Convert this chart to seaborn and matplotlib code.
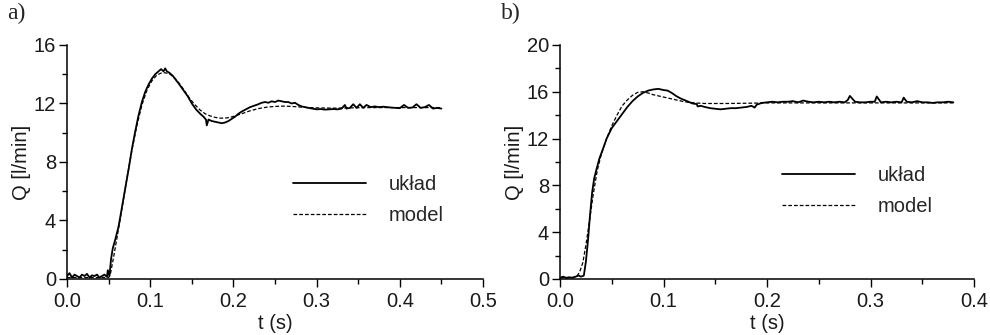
import pandas as pd
import matplotlib
matplotlib.use("Agg")
import matplotlib.pyplot as plt
import seaborn as sns
from matplotlib.ticker import MultipleLocator, FormatStrFormatter

# panel a) - measured response ("układ") and model
ta_uklad = [0.000, 0.003, 0.006, 0.009, 0.012, 0.015, 0.018, 0.021, 0.024, 0.027, 0.030,
            0.033, 0.036, 0.039, 0.042, 0.045, 0.048, 0.049, 0.051, 0.053, 0.055, 0.058,
            0.062, 0.066, 0.070, 0.074, 0.078, 0.082, 0.086, 0.090, 0.094, 0.098, 0.102,
            0.106, 0.110, 0.113, 0.116, 0.118, 0.120, 0.123, 0.127, 0.131, 0.135, 0.140,
            0.145, 0.150, 0.155, 0.160, 0.164, 0.167, 0.168, 0.170, 0.174, 0.178, 0.182,
            0.186, 0.190, 0.194, 0.198, 0.202, 0.206, 0.210, 0.215, 0.220, 0.225, 0.230,
            0.234, 0.238, 0.242, 0.246, 0.250, 0.254, 0.258, 0.262, 0.266, 0.270, 0.274,
            0.278, 0.282, 0.286, 0.290, 0.295, 0.300, 0.305, 0.310, 0.315, 0.320, 0.325,
            0.330, 0.334, 0.336, 0.340, 0.344, 0.348, 0.352, 0.356, 0.360, 0.365, 0.370,
            0.375, 0.380, 0.385, 0.390, 0.395, 0.400, 0.405, 0.410, 0.415, 0.420, 0.425,
            0.430, 0.435, 0.440, 0.445, 0.450]
qa_uklad = [0.2, 0.4, 0.1, 0.3, 0.2, 0.1, 0.3, 0.2, 0.35, 0.1, 0.25,
            0.2, 0.3, 0.1, 0.2, 0.3, 0.15, 0.6, 0.2, 1.4, 2.1, 2.7,
            3.6, 4.9, 6.2, 7.5, 8.9, 10.1, 11.2, 12.1, 12.8, 13.3, 13.7,
            14.0, 14.2, 14.35, 14.2, 14.4, 14.2, 14.1, 13.9, 13.6, 13.3, 12.9,
            12.5, 12.0, 11.6, 11.3, 11.1, 10.9, 10.5, 10.9, 10.8, 10.75, 10.7,
            10.65, 10.7, 10.8, 10.95, 11.1, 11.3, 11.45, 11.6, 11.75, 11.85, 11.95,
            12.05, 12.1, 12.05, 12.15, 12.1, 12.2, 12.15, 12.1, 12.1, 12.0, 12.05,
            11.9, 11.8, 11.75, 11.7, 11.65, 11.6, 11.62, 11.58, 11.6, 11.62, 11.6,
            11.65, 11.9, 11.65, 11.7, 11.95, 11.7, 11.95, 11.7, 11.9, 11.75, 11.8,
            11.75, 11.78, 11.75, 11.72, 11.7, 11.68, 11.9, 11.7, 11.72, 11.95, 11.7,
            11.75, 11.9, 11.65, 11.7, 11.65]
ta_model = [0.000, 0.020, 0.040, 0.050, 0.052, 0.056, 0.060, 0.066, 0.072, 0.078, 0.084,
            0.090, 0.096, 0.102, 0.108, 0.114, 0.118, 0.124, 0.130, 0.136, 0.142, 0.148,
            0.154, 0.160, 0.166, 0.172, 0.178, 0.184, 0.190, 0.196, 0.202, 0.210, 0.220,
            0.230, 0.240, 0.250, 0.260, 0.270, 0.280, 0.290, 0.300, 0.320, 0.340, 0.360,
            0.380, 0.400, 0.420, 0.450]
qa_model = [0.1, 0.1, 0.1, 0.1, 0.3, 1.5, 2.8, 4.8, 6.9, 8.8, 10.5,
            11.9, 12.9, 13.55, 13.95, 14.1, 14.1, 14.0, 13.7, 13.3, 12.8, 12.3,
            11.9, 11.55, 11.3, 11.15, 11.05, 11.0, 11.0, 11.05, 11.15, 11.3, 11.5,
            11.65, 11.75, 11.8, 11.82, 11.8, 11.76, 11.72, 11.7, 11.68, 11.7, 11.72,
            11.72, 11.72, 11.72, 11.72]

# panel b)
tb_uklad = [0.000, 0.003, 0.006, 0.009, 0.012, 0.015, 0.018, 0.020, 0.022, 0.023, 0.025,
            0.027, 0.029, 0.031, 0.033, 0.035, 0.038, 0.041, 0.045, 0.050, 0.055, 0.060,
            0.065, 0.070, 0.075, 0.080, 0.085, 0.090, 0.095, 0.100, 0.104, 0.108, 0.112,
            0.116, 0.120, 0.124, 0.128, 0.132, 0.133, 0.136, 0.140, 0.145, 0.150, 0.155,
            0.160, 0.165, 0.170, 0.175, 0.180, 0.185, 0.188, 0.190, 0.195, 0.200, 0.205,
            0.210, 0.215, 0.220, 0.225, 0.230, 0.235, 0.240, 0.245, 0.250, 0.255, 0.260,
            0.265, 0.270, 0.275, 0.278, 0.280, 0.285, 0.290, 0.295, 0.300, 0.304, 0.306,
            0.310, 0.315, 0.320, 0.325, 0.330, 0.332, 0.335, 0.340, 0.345, 0.350, 0.355,
            0.360, 0.365, 0.370, 0.375, 0.380]
qb_uklad = [0.1, 0.2, 0.1, 0.15, 0.1, 0.2, 0.3, 0.2, 0.25, 0.3, 1.5,
            3.3, 5.5, 7.4, 8.6, 9.3, 10.3, 11.0, 12.0, 12.9, 13.5, 14.1,
            14.7, 15.2, 15.6, 15.9, 16.1, 16.2, 16.25, 16.15, 16.1, 15.9, 15.65,
            15.45, 15.3, 15.15, 15.0, 14.95, 14.75, 14.8, 14.7, 14.6, 14.55, 14.5,
            14.55, 14.6, 14.6, 14.65, 14.7, 14.8, 14.65, 14.9, 15.05, 15.1, 15.15,
            15.1, 15.15, 15.15, 15.2, 15.1, 15.25, 15.15, 15.1, 15.15, 15.1, 15.15,
            15.1, 15.15, 15.1, 15.3, 15.65, 15.15, 15.1, 15.1, 15.15, 15.15, 15.6,
            15.1, 15.15, 15.1, 15.15, 15.1, 15.5, 15.15, 15.1, 15.2, 15.1, 15.1,
            15.05, 15.1, 15.1, 15.15, 15.1]
tb_model = [0.000, 0.010, 0.016, 0.019, 0.022, 0.025, 0.029, 0.032, 0.036, 0.040, 0.045,
            0.050, 0.055, 0.060, 0.065, 0.070, 0.075, 0.080, 0.085, 0.090, 0.095, 0.100,
            0.110, 0.120, 0.130, 0.140, 0.160, 0.180, 0.200, 0.250, 0.300, 0.350, 0.380]
qb_model = [0.1, 0.1, 0.2, 0.6, 1.4, 2.9, 5.3, 7.2, 9.3, 10.7, 12.0,
            13.1, 14.0, 14.8, 15.3, 15.7, 15.95, 16.0, 15.9, 15.75, 15.65, 15.55,
            15.35, 15.15, 15.05, 15.0, 15.0, 15.02, 15.05, 15.05, 15.05, 15.05, 15.05]

x_labels = ["t (s)", "t (s)"]
y_label = "Q [l/min]"
panel_tags = ["a)", "b)"]
series_names = ["układ", "model"]

sns.set_theme(style="ticks")
plt.rcParams["font.family"] = ["Liberation Sans", "DejaVu Sans"]
plt.rcParams["axes.linewidth"] = 1.1

fig = plt.figure(figsize=(9.9, 3.35), dpi=100)
ax_a = fig.add_axes([0.0677, 0.1672, 0.4202, 0.6985])
ax_b = fig.add_axes([0.5657, 0.1672, 0.4182, 0.6985])

panels = [
    (ax_a, ta_uklad, qa_uklad, ta_model, qa_model, 0.5, 16, (0.296, 0.478)),
    (ax_b, tb_uklad, qb_uklad, tb_model, qb_model, 0.4, 20, (0.790, 0.505)),
]

for i, (ax, tu, qu, tm, qm, xmax, ymax, leg_pos) in enumerate(panels):
    df_u = pd.DataFrame({"t": tu, "Q": qu})
    df_m = pd.DataFrame({"t": tm, "Q": qm})
    sns.lineplot(data=df_u, x="t", y="Q", ax=ax, color="black", lw=1.3,
                 estimator=None, sort=False, label=series_names[0])
    sns.lineplot(data=df_m, x="t", y="Q", ax=ax, color="black", lw=0.9,
                 estimator=None, sort=False, label=series_names[1], dashes=False,
                 linestyle=(0, (3, 1.6)))

    ax.set_xlim(0, xmax)
    ax.set_ylim(0, ymax)
    ax.xaxis.set_major_locator(MultipleLocator(0.1))
    ax.xaxis.set_minor_locator(MultipleLocator(0.05))
    ax.xaxis.set_major_formatter(FormatStrFormatter("%.1f"))
    ax.yaxis.set_major_locator(MultipleLocator(4))
    ax.yaxis.set_minor_locator(MultipleLocator(2))
    ax.tick_params(which="major", length=6, width=1.0, labelsize=14.5, pad=2,
                   colors="black", labelcolor="#1a1a1a")
    ax.tick_params(axis="x", which="major", pad=3.5)
    ax.tick_params(which="minor", length=3.5, width=1.0, colors="black")
    sns.despine(ax=ax)
    for side in ["left", "bottom"]:
        ax.spines[side].set_color("black")

    ax.set_xlabel(x_labels[i], fontsize=14.5, labelpad=2, color="#1a1a1a")
    ax.set_ylabel(y_label, fontsize=14.5, labelpad=2, color="#1a1a1a")

    ax.legend(loc="upper left", bbox_to_anchor=leg_pos, bbox_transform=fig.transFigure,
              frameon=False, fontsize=14.5, handlelength=3.6, handletextpad=1.15,
              labelspacing=0.6, borderpad=0, borderaxespad=0)

fig.text(0.007, 0.99, panel_tags[0], family=["Liberation Serif"], fontsize=17, va="top")
fig.text(0.506, 0.99, panel_tags[1], family=["Liberation Serif"], fontsize=17, va="top")

fig.savefig("out.png", dpi=100)
